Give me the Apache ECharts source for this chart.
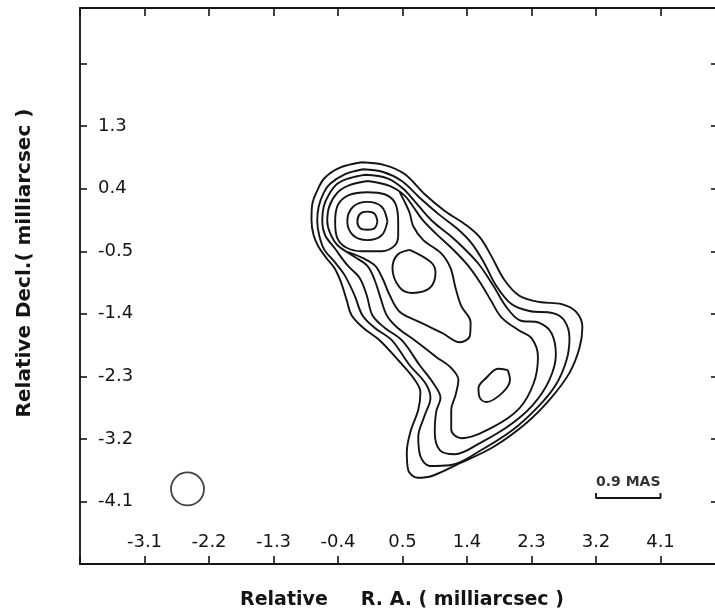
<!DOCTYPE html>
<html>
<head>
<meta charset="utf-8">
<script src="https://cdn.jsdelivr.net/npm/echarts@6/dist/echarts.min.js"></script>
<style>
html,body{margin:0;padding:0;background:#ffffff;}
#chart{width:715px;height:613px;}
</style>
</head>
<body>
<div id="chart"></div>
<script>
// ---- tick labels ----
const xTickLabels = ['-3.1','-2.2','-1.3','-0.4','0.5','1.4','2.3','3.2','4.1'];
const yTickLabels = ['-4.1','-3.2','-2.3','-1.4','-0.5','0.4','1.3'];

// ---- contour lines (Relative R.A., Relative Decl.) in milliarcsec ----
const contourLevel1 = [[-0.07,0.78],[0.25,0.74],[0.53,0.61],[0.81,0.32],[1.09,0.08],[1.37,-0.11],[1.58,-0.30],[1.74,-0.57],[1.92,-0.91],[2.13,-1.14],[2.41,-1.23],[2.72,-1.26],[2.92,-1.37],[3.01,-1.59],[2.97,-1.89],[2.83,-2.25],[2.55,-2.64],[2.23,-2.97],[1.76,-3.32],[1.30,-3.55],[0.92,-3.73],[0.71,-3.76],[0.58,-3.65],[0.56,-3.39],[0.61,-3.10],[0.72,-2.78],[0.75,-2.53],[0.65,-2.32],[0.46,-2.09],[0.18,-1.78],[-0.05,-1.60],[-0.21,-1.42],[-0.28,-1.20],[-0.36,-0.94],[-0.45,-0.74],[-0.56,-0.60],[-0.67,-0.44],[-0.74,-0.27],[-0.77,-0.05],[-0.76,0.17],[-0.70,0.35],[-0.59,0.55],[-0.38,0.70]];
const contourLevel2 = [[-0.05,0.68],[0.23,0.64],[0.49,0.51],[0.74,0.27],[1.02,0.02],[1.27,-0.18],[1.46,-0.38],[1.63,-0.65],[1.81,-1.00],[2.02,-1.26],[2.27,-1.36],[2.60,-1.39],[2.76,-1.50],[2.83,-1.75],[2.79,-2.06],[2.64,-2.42],[2.39,-2.74],[2.04,-3.07],[1.60,-3.36],[1.16,-3.58],[0.88,-3.59],[0.75,-3.45],[0.72,-3.17],[0.81,-2.86],[0.89,-2.61],[0.82,-2.40],[0.60,-2.14],[0.35,-1.78],[0.11,-1.60],[-0.06,-1.42],[-0.17,-1.13],[-0.31,-0.84],[-0.45,-0.65],[-0.59,-0.48],[-0.66,-0.28],[-0.69,-0.07],[-0.67,0.14],[-0.60,0.34],[-0.51,0.47],[-0.30,0.61]];
const contourLevel3 = [[-0.02,0.60],[0.29,0.55],[0.51,0.40],[0.71,0.17],[0.93,-0.08],[1.16,-0.27],[1.35,-0.45],[1.56,-0.68],[1.77,-1.00],[1.94,-1.29],[2.13,-1.49],[2.41,-1.53],[2.58,-1.68],[2.64,-1.99],[2.55,-2.35],[2.32,-2.71],[2.00,-3.00],[1.58,-3.26],[1.23,-3.42],[1.02,-3.36],[0.95,-3.10],[0.97,-2.81],[1.03,-2.61],[0.93,-2.40],[0.74,-2.14],[0.49,-1.78],[0.25,-1.60],[0.08,-1.42],[0.00,-1.13],[-0.10,-0.88],[-0.27,-0.70],[-0.45,-0.45],[-0.58,-0.27],[-0.62,-0.07],[-0.60,0.14],[-0.53,0.31],[-0.41,0.47],[-0.24,0.55]];
const contourLevel4 = [[0.01,0.51],[0.32,0.44],[0.53,0.30],[0.65,0.14],[0.78,-0.05],[0.97,-0.25],[1.20,-0.47],[1.41,-0.70],[1.59,-0.96],[1.74,-1.22],[1.88,-1.45],[2.11,-1.63],[2.30,-1.75],[2.39,-2.02],[2.33,-2.40],[2.13,-2.76],[1.76,-3.03],[1.32,-3.19],[1.18,-3.07],[1.18,-2.78],[1.24,-2.57],[1.28,-2.35],[1.18,-2.18],[0.97,-2.02],[0.67,-1.78],[0.43,-1.60],[0.28,-1.42],[0.19,-1.16],[0.11,-0.91],[0.01,-0.71],[-0.17,-0.58],[-0.41,-0.41],[-0.51,-0.24],[-0.55,-0.07],[-0.52,0.15],[-0.41,0.34],[-0.24,0.45]];
const tongueContour = [[0.46,0.35],[0.54,0.19],[0.60,0.05],[0.65,-0.14],[0.79,-0.34],[1.04,-0.53],[1.17,-0.74],[1.24,-1.03],[1.32,-1.29],[1.45,-1.52],[1.44,-1.72],[1.30,-1.81],[1.06,-1.68],[0.74,-1.52],[0.46,-1.37],[0.32,-1.13],[0.23,-0.91],[0.12,-0.71],[-0.05,-0.60],[-0.27,-0.51]];
const coreRing1 = [[0.44,-0.08],[0.40,0.19],[0.25,0.32],[0.01,0.35],[-0.24,0.31],[-0.40,0.17],[-0.44,-0.08],[-0.41,-0.31],[-0.28,-0.45],[-0.07,-0.50],[0.21,-0.50],[0.39,-0.42],[0.44,-0.27]];
const coreRing2 = [[0.29,-0.07],[0.21,0.14],[0.01,0.21],[-0.19,0.14],[-0.27,-0.07],[-0.19,-0.27],[0.01,-0.34],[0.21,-0.27]];
const coreRing3 = [[0.15,-0.07],[0.11,0.04],[0.01,0.07],[-0.09,0.04],[-0.13,-0.07],[-0.09,-0.17],[0.01,-0.19],[0.11,-0.17]];
const blobRing = [[0.60,-0.48],[0.90,-0.66],[0.96,-0.81],[0.88,-1.03],[0.64,-1.10],[0.46,-1.02],[0.36,-0.74],[0.43,-0.55]];
const southRing = [[1.97,-2.21],[2.00,-2.35],[1.90,-2.53],[1.67,-2.67],[1.58,-2.61],[1.56,-2.47],[1.67,-2.32],[1.83,-2.19]];

// ---- beam and scale bar ----
const beamCenter = [[-2.50,-3.92]];
const scaleBar = [[3.2,-3.98],[3.2,-4.05],[4.1,-4.05],[4.1,-3.98]];
const scaleBarText = [[3.65,-3.82]];
const scaleBarLabel = '0.9 MAS';

const ink = '#141414';
const fontFam = '"DejaVu Sans", sans-serif';

const closedContours = [contourLevel1, contourLevel2, contourLevel3, contourLevel4, coreRing1, coreRing2, coreRing3, blobRing, southRing];

function lineSeries(pts, smooth) {
  return {
    type: 'line', data: pts, xAxisIndex: 0, yAxisIndex: 0,
    symbol: 'none', smooth: smooth, silent: true,
    lineStyle: { color: ink, width: 1.9 }, z: 3
  };
}

const series = closedContours.map(c => lineSeries(c.concat([c[0]]), 0.35));
series.push(lineSeries(tongueContour, 0.35));
series.push(lineSeries(scaleBar, false));
series.push({
  type: 'scatter', data: beamCenter, symbol: 'circle', symbolSize: 33, silent: true,
  itemStyle: { color: 'rgba(0,0,0,0)', borderColor: ink, borderWidth: 1.8 }
});
series.push({
  type: 'scatter', data: scaleBarText, symbolSize: 1, silent: true,
  itemStyle: { color: 'rgba(0,0,0,0)' },
  label: { show: true, position: 'inside', formatter: scaleBarLabel, color: '#000',
           fontSize: 14, fontWeight: 'bold', fontFamily: fontFam }
});

function fmt(list) {
  return function (v) {
    const s = (Math.round(v * 10) / 10).toFixed(1);
    return list.indexOf(s) >= 0 ? s : '';
  };
}

const axisLine = { show: true, onZero: false, lineStyle: { color: ink, width: 1.8 } };
const labelStyle = { color: ink, fontSize: 18, fontFamily: fontFam };

const option = {
  backgroundColor: '#ffffff',
  animation: false,
  grid: { left: 80, top: 8, width: 645, height: 556, containLabel: false, outerBoundsMode: 'none' },
  xAxis: [
    { type: 'value', position: 'bottom', min: -4.0, max: 5.0, interval: 0.9,
      axisLine: axisLine, splitLine: { show: false },
      axisTick: { show: true, inside: true, length: 8, lineStyle: { color: ink, width: 1.6 } },
      axisLabel: Object.assign({ inside: true, margin: 13, formatter: fmt(xTickLabels) }, labelStyle) },
    { type: 'value', position: 'top', min: -4.0, max: 5.0, interval: 0.9,
      axisLine: axisLine, splitLine: { show: false },
      axisTick: { show: true, inside: true, length: 8, lineStyle: { color: ink, width: 1.6 } },
      axisLabel: { show: false } }
  ],
  yAxis: [
    { type: 'value', position: 'left', min: -5.0, max: 3.0, interval: 0.9,
      axisLine: axisLine, splitLine: { show: false },
      axisTick: { show: true, inside: true, length: 7, lineStyle: { color: ink, width: 1.6 } },
      axisLabel: Object.assign({ inside: true, margin: 18, formatter: fmt(yTickLabels) }, labelStyle) },
    { type: 'value', position: 'right', min: -5.0, max: 3.0, interval: 0.9,
      axisLine: axisLine, splitLine: { show: false },
      axisTick: { show: true, inside: true, length: 14, lineStyle: { color: ink, width: 1.6 } },
      axisLabel: { show: false } }
  ],
  graphic: [
    { type: 'text', x: 402, y: 600, silent: true,
      style: { text: 'Relative     R. A. ( milliarcsec )', font: 'bold 19px ' + fontFam, fill: ink,
               textAlign: 'center', textVerticalAlign: 'middle', align: 'center', verticalAlign: 'middle' } },
    { type: 'text', x: 25, y: 263, rotation: Math.PI / 2, silent: true,
      style: { text: 'Relative Decl.( milliarcsec )', font: 'bold 20px ' + fontFam, fill: ink,
               textAlign: 'center', textVerticalAlign: 'middle', align: 'center', verticalAlign: 'middle' } }
  ],
  series: series
};

const chart = echarts.init(document.getElementById('chart'));
chart.setOption(option);
</script>
</body>
</html>
